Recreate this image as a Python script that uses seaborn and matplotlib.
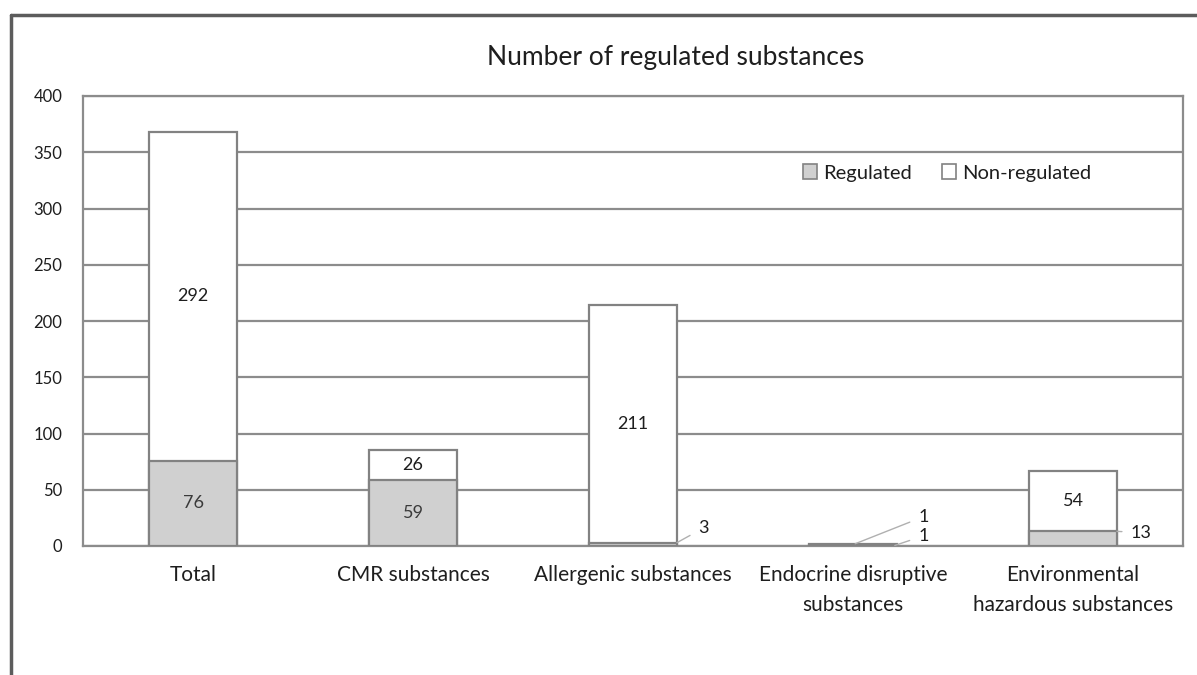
import matplotlib
matplotlib.use("Agg")
import matplotlib.pyplot as plt
import pandas as pd
import seaborn as sns
from matplotlib.lines import Line2D
from matplotlib.patches import Patch


CATEGORIES = [
    "Total",
    "CMR substances",
    "Allergenic substances",
    "Endocrine disruptive\nsubstances",
    "Environmental\nhazardous substances",
]
REGULATED = [76, 59, 3, 1, 13]
NON_REGULATED = [292, 26, 211, 1, 54]
Y_TICKS = [0, 50, 100, 150, 200, 250, 300, 350, 400]
TITLE = "Number of regulated substances"

REG_COLOR = "#d0d0d0"
EDGE_COLOR = "#828282"
GRID_COLOR = "#8c8c8c"
TEXT_COLOR = "#1e1e1e"


def main() -> None:
    sns.set_theme(style="white")
    plt.rcParams["font.family"] = ["Lato", "DejaVu Sans"]

    df = pd.DataFrame({
        "category": CATEGORIES,
        "regulated": REGULATED,
        "non_regulated": NON_REGULATED,
    })
    df["total"] = df["regulated"] + df["non_regulated"]

    fig = plt.figure(figsize=(11.97, 6.75), dpi=100)
    ax = fig.add_axes([83 / 1197, 1 - 546 / 675, 1100 / 1197, 450 / 675])

    # stacked look: full-height white bars, then the regulated part on top
    sns.barplot(data=df, x="category", y="total", color="white", saturation=1,
                width=0.4, edgecolor=EDGE_COLOR, linewidth=1.6, ax=ax, zorder=2)
    sns.barplot(data=df, x="category", y="regulated", color=REG_COLOR, saturation=1,
                width=0.4, edgecolor=EDGE_COLOR, linewidth=1.6, ax=ax, zorder=3)

    ax.set_xlim(-0.5, len(CATEGORIES) - 0.5)
    ax.set_ylim(0, 400)
    ax.set_yticks(Y_TICKS)
    ax.set_yticklabels([str(t) for t in Y_TICKS], fontsize=12, color=TEXT_COLOR)
    ax.set_xticks(range(len(CATEGORIES)))
    ax.set_xticklabels(CATEGORIES, fontsize=15, color=TEXT_COLOR, linespacing=1.6)
    ax.tick_params(axis="y", length=0, pad=15)
    ax.tick_params(axis="x", length=0, pad=14)
    ax.set_xlabel("")
    ax.set_ylabel("")

    ax.yaxis.grid(True, color=GRID_COLOR, linewidth=1.6)
    ax.set_axisbelow(True)
    for spine in ax.spines.values():
        spine.set_visible(True)
        spine.set_color(GRID_COLOR)
        spine.set_linewidth(1.6)

    # labels inside the bigger segments
    for i, (reg, non) in enumerate(zip(REGULATED, NON_REGULATED)):
        if reg >= 20:
            ax.text(i, reg / 2, str(reg), ha="center", va="center",
                    fontsize=13, color="#3a3a3a", zorder=5)
        if non >= 20:
            ax.text(i, reg + non / 2, str(non), ha="center", va="center",
                    fontsize=13, color=TEXT_COLOR, zorder=5)

    # small segments get a leader line to an outside label
    leader = dict(arrowstyle="-", color="#b0b0b0", lw=1.0, shrinkA=4, shrinkB=0)
    ax.annotate(str(REGULATED[2]), xy=(2.2, REGULATED[2]), xytext=(2.32, 16),
                ha="center", va="center", fontsize=13, color=TEXT_COLOR,
                arrowprops=leader, zorder=5)
    ax.annotate(str(NON_REGULATED[3]), xy=(3.01, REGULATED[3] + NON_REGULATED[3]),
                xytext=(3.32, 26), ha="center", va="center", fontsize=13,
                color=TEXT_COLOR, arrowprops=leader, zorder=5)
    ax.annotate(str(REGULATED[3]), xy=(3.19, REGULATED[3] / 2), xytext=(3.32, 9),
                ha="center", va="center", fontsize=13, color=TEXT_COLOR,
                arrowprops=leader, zorder=5)
    ax.annotate(str(REGULATED[4]), xy=(4.2, REGULATED[4]), xytext=(4.31, 12),
                ha="center", va="center", fontsize=13, color=TEXT_COLOR,
                arrowprops=leader, zorder=5)

    handles = [
        Patch(facecolor=REG_COLOR, edgecolor=EDGE_COLOR, linewidth=1.2, label="Regulated"),
        Patch(facecolor="white", edgecolor=EDGE_COLOR, linewidth=1.2, label="Non-regulated"),
    ]
    fig.legend(handles=handles, loc="center left", bbox_to_anchor=(803 / 1197, 1 - 173 / 675),
               ncol=2, frameon=False, fontsize=14.5, borderpad=0, borderaxespad=0,
               handlelength=0.7, handleheight=0.7, handletextpad=0.3,
               columnspacing=1.5, labelcolor=TEXT_COLOR)

    fig.text(676 / 1197, 1 - 57 / 675, TITLE, ha="center", va="center",
             fontsize=19, color=TEXT_COLOR)

    # outer chart border (left and top edges visible in the crop)
    fig.add_artist(Line2D([11 / 1197, 11 / 1197], [0, 1 - 15 / 675],
                          transform=fig.transFigure, color="#5c5c5c", lw=2.5))
    fig.add_artist(Line2D([11 / 1197, 1], [1 - 15 / 675, 1 - 15 / 675],
                          transform=fig.transFigure, color="#5c5c5c", lw=2.5))

    fig.savefig("out.png", dpi=100, facecolor="white")
    plt.close(fig)


if __name__ == "__main__":
    main()
